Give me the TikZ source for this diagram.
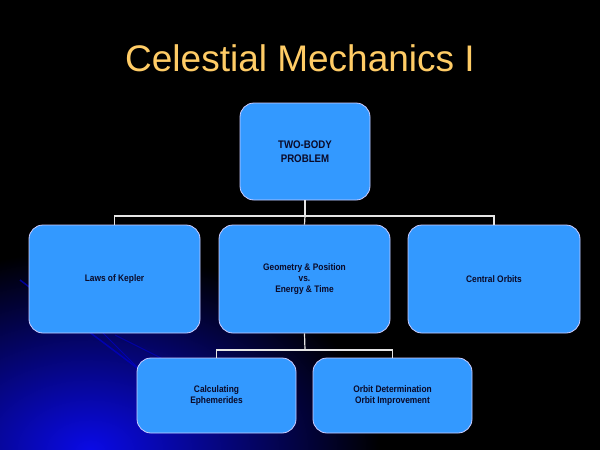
\documentclass[tikz,border=0pt]{standalone}
\usepackage{fontspec}
\setmainfont{Liberation Sans}
\newfontfamily\narrowf[FakeStretch=0.88]{Liberation Sans}
\usetikzlibrary{fadings}
\begin{document}
\begin{tikzpicture}[x=1pt,y=-1pt,
  bx/.style={draw=white!80!blue,line width=0.8pt,fill={rgb,255:red,51;green,153;blue,255},rounded corners=14pt,inner sep=0pt,align=center,font=\narrowf\bfseries\fontsize{9.5}{11}\selectfont,text={rgb,255:red,10;green,10;blue,40}},
  ln/.style={draw=white!90!black,line width=1.2pt}]
\fill[black] (0,0) rectangle (600,450);
\useasboundingbox (0,0) rectangle (600,450);
\fill[inner color={rgb,255:red,10;green,10;blue,230},outer color=black] (-200,250) rectangle (380,650);
\fill[black] (0,0) rectangle (600,190);
\draw[blue!80!black,line width=1.5pt,opacity=.7] (20,280) -- (140,370);
\draw[blue!80!black,line width=1pt,opacity=.7] (100,330) -- (170,400);
\draw[blue!80!black,line width=1pt,opacity=.6] (115,335) -- (165,360);
\node[text={rgb,255:red,255;green,204;blue,102},font=\fontsize{37}{42}\selectfont] (title) at (300,58) {Celestial Mechanics I};
\node[bx,minimum width=130pt,minimum height=97pt,font=\narrowf\bfseries\fontsize{11}{14}\selectfont] (top) at (305,151.5) {TWO-BODY\\PROBLEM};
\node[bx,minimum width=171pt,minimum height=108pt] (kep) at (114.5,279) {Laws of Kepler};
\node[bx,minimum width=171pt,minimum height=108pt] (geo) at (304.5,279) {Geometry \& Position\\vs.\\Energy \& Time};
\node[bx,minimum width=172pt,minimum height=108pt] (cen) at (494,279) {Central Orbits};
\node[bx,minimum width=159pt,minimum height=75pt] (cal) at (216.5,395.5) {Calculating\\Ephemerides};
\node[bx,minimum width=159pt,minimum height=75pt] (orb) at (392.5,395.5) {Orbit Determination\\Orbit Improvement};
\coordinate (j1) at (305,216);
\coordinate (j2) at (305,350);
\draw[ln] (top.south) -- (j1);
\draw[ln] (kep.north) |- (j1) -| (cen.north);
\draw[ln] (j1) -- (geo.north);
\draw[ln] (geo.south) -- (j2);
\draw[ln] (cal.north) |- (j2) -| (orb.north);
\end{tikzpicture}
\end{document}
